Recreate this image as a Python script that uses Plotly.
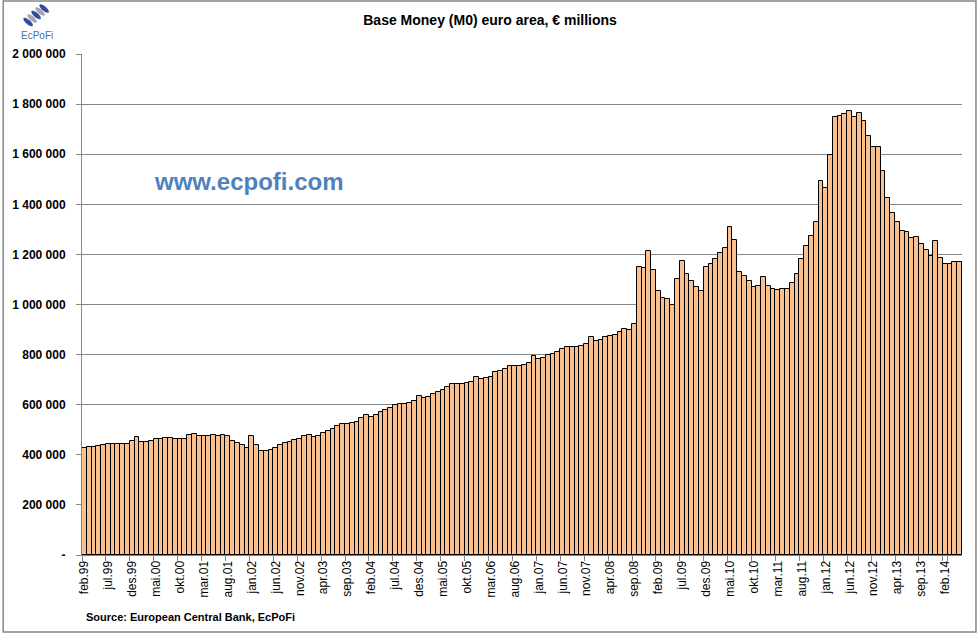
"""Base Money (M0) euro area, monthly bars, EcPoFi style."""

import math

import plotly.graph_objects as go

MONTH_ABBR = ["jan", "feb", "mar", "apr", "mai", "jun", "jul", "aug", "sep", "okt", "nov", "des"]
START_YEAR = 1999
START_MONTH = 2  # feb.99

# € millions, feb.99 .. mai.14
BASE_MONEY = [
    426000, 431000, 431000, 435000, 439000, 443000, 445000, 443000, 445000, 445000,
    457000, 471000, 453000, 453000, 457000, 465000, 465000, 469000, 469000, 465000,
    465000, 465000, 479000, 485000, 475000, 475000, 475000, 479000, 475000, 479000,
    475000, 457000, 449000, 439000, 426000, 475000, 439000, 414000, 414000, 421000,
    428000, 441000, 449000, 453000, 459000, 463000, 477000, 481000, 471000, 475000,
    487000, 495000, 503000, 515000, 523000, 523000, 528000, 532000, 547000, 558000,
    551000, 558000, 570000, 578000, 586000, 598000, 602000, 602000, 606000, 614000,
    634000, 626000, 630000, 642000, 650000, 658000, 670000, 682000, 682000, 682000,
    686000, 690000, 712000, 702000, 706000, 712000, 730000, 734000, 744000, 754000,
    754000, 754000, 758000, 768000, 794000, 782000, 786000, 798000, 803000, 810000,
    822000, 829000, 829000, 829000, 833000, 841000, 869000, 853000, 857000, 869000,
    873000, 877000, 889000, 901000, 897000, 921000, 1151000, 1147000, 1212000, 1136000,
    1054000, 1025000, 1021000, 997000, 1100000, 1172000, 1120000, 1092000, 1068000, 1053000,
    1151000, 1160000, 1180000, 1204000, 1224000, 1308000, 1256000, 1129000, 1112000, 1092000,
    1069000, 1072000, 1111000, 1072000, 1061000, 1057000, 1063000, 1061000, 1084000, 1120000,
    1182000, 1232000, 1272000, 1331000, 1495000, 1467000, 1598000, 1750000, 1754000, 1762000,
    1772000, 1750000, 1766000, 1734000, 1674000, 1629000, 1629000, 1531000, 1427000, 1367000,
    1330000, 1292000, 1289000, 1266000, 1270000, 1242000, 1216000, 1193000, 1254000, 1186000,
    1160000, 1160000, 1168000, 1168000,
]

TICK_LABELS = [
    "feb.99", "jul.99", "des.99", "mai.00", "okt.00", "mar.01", "aug.01", "jan.02",
    "jun.02", "nov.02", "apr.03", "sep.03", "feb.04", "jul.04", "des.04", "mai.05",
    "okt.05", "mar.06", "aug.06", "jan.07", "jun.07", "nov.07", "apr.08", "sep.08",
    "feb.09", "jul.09", "des.09", "mai.10", "okt.10", "mar.11", "aug.11", "jan.12",
    "jun.12", "nov.12", "apr.13", "sep.13", "feb.14",
]
Y_TICKS = [0, 200000, 400000, 600000, 800000, 1000000, 1200000, 1400000, 1600000, 1800000, 2000000]
Y_TICK_TEXT = ["-", "200 000", "400 000", "600 000", "800 000", "1 000 000", "1 200 000",
               "1 400 000", "1 600 000", "1 800 000", "2 000 000"]

W, H = 977, 639
L, R, T, B = 80, 15, 54, 84
PW, PH = W - L - R, H - T - B

FONT = "Liberation Sans, Arial, sans-serif"
BAR = "#FAC090"
GRID = "#868686"
LOGO_BLUE = "#2E4F9E"
LOGO_GREY = "#A6A6A6"


def month_labels(n):
    labels = []
    y, m = START_YEAR, START_MONTH
    for _ in range(n):
        labels.append(f"{MONTH_ABBR[m - 1]}.{y % 100:02d}")
        m += 1
        if m > 12:
            m, y = 1, y + 1
    return labels


def px_x(x):
    return (x - L) / PW


def px_y(y):
    return (H - B - y) / PH


def ellipse_path(cx, cy, rx, ry, angle_deg, n=24):
    a = math.radians(angle_deg)
    pts = []
    for k in range(n):
        t = 2 * math.pi * k / n
        ex, ey = rx * math.cos(t), ry * math.sin(t)
        x = cx + ex * math.cos(a) - ey * math.sin(a)
        y = cy + ex * math.sin(a) + ey * math.cos(a)
        pts.append(f"{px_x(x):.5f},{px_y(y):.5f}")
    return "M " + " L ".join(pts) + " Z"


months = month_labels(len(BASE_MONEY))

fig = go.Figure(
    go.Bar(
        x=months,
        y=BASE_MONEY,
        marker={"color": BAR, "line": {"color": "#000000", "width": 1}},
        hovertemplate="%{x}: %{y:,.0f}<extra></extra>",
    )
)

# chart-area frame
fig.add_shape(
    type="rect", xref="paper", yref="paper",
    x0=px_x(1), x1=px_x(976), y0=px_y(632), y1=px_y(1),
    line={"color": GRID, "width": 1.5}, layer="below",
)

# small EcPoFi logo: a little braid of blue and grey leaves
for i, (cx, cy) in enumerate([(26, 22), (30, 18.5), (34, 15), (38, 11.5), (42, 8.5)]):
    fig.add_shape(
        type="path", xref="paper", yref="paper",
        path=ellipse_path(cx, cy, 6, 2.2, 40),
        fillcolor=LOGO_BLUE if i % 2 == 0 else LOGO_GREY,
        line={"width": 0},
    )
fig.add_annotation(
    text="EcPoFi", xref="paper", yref="paper", x=px_x(35), y=px_y(36),
    xanchor="center", yanchor="middle", showarrow=False,
    font={"family": FONT, "size": 10, "color": "#4A6FA5"},
)

fig.add_annotation(
    text="<b>www.ecpofi.com</b>", xref="paper", yref="paper",
    x=px_x(247), y=px_y(181), xanchor="center", yanchor="middle", showarrow=False,
    font={"family": FONT, "size": 24, "color": "#4F81BD"},
)
fig.add_annotation(
    text="<b>Source: European Central Bank, EcPoFi</b>", xref="paper", yref="paper",
    x=px_x(82), y=px_y(617), xanchor="left", yanchor="middle", showarrow=False,
    font={"family": FONT, "size": 11, "color": "#000000"},
)

fig.update_layout(
    width=W,
    height=H,
    margin={"l": L, "r": R, "t": T, "b": B},
    paper_bgcolor="#ffffff",
    plot_bgcolor="#ffffff",
    font={"family": FONT, "color": "#000000", "size": 12},
    title={
        "text": "<b>Base Money (M0) euro area, € millions</b>",
        "x": (489 - L) / PW, "xref": "paper", "xanchor": "center",
        "y": 1 - 20 / H, "yanchor": "middle",
        "font": {"family": FONT, "size": 14, "color": "#000000"},
    },
    bargap=0,
    showlegend=False,
)
fig.update_xaxes(
    type="category",
    tickmode="array",
    tickvals=TICK_LABELS,
    ticktext=TICK_LABELS,
    tickson="boundaries",
    ticks="outside",
    ticklen=5,
    tickcolor=GRID,
    tickangle=-90,
    tickfont={"family": FONT, "size": 12, "color": "#000000"},
    showline=True,
    linecolor=GRID,
    linewidth=1,
    showgrid=False,
)
fig.update_yaxes(
    range=[0, 2000000],
    tickmode="array",
    tickvals=Y_TICKS,
    ticktext=[f"<b>{t}</b>" for t in Y_TICK_TEXT],
    ticks="outside",
    ticklen=5,
    tickcolor=GRID,
    ticklabelstandoff=8,
    tickfont={"family": FONT, "size": 12, "color": "#000000"},
    showline=True,
    linecolor=GRID,
    linewidth=1,
    showgrid=True,
    gridcolor=GRID,
    gridwidth=1,
    zeroline=False,
)

fig.write_html(
    "out.html",
    config={"displayModeBar": False},
    post_script="document.body.style.margin='0';",
)
